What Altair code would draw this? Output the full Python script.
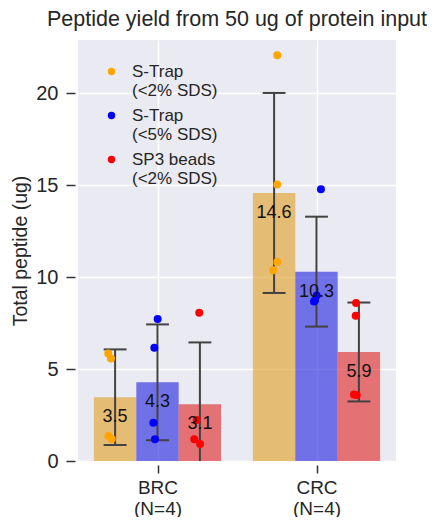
import altair as alt
import pandas as pd

# ---- data ----
categories = ["BRC", "CRC"]
category_notes = ["(N=4)", "(N=4)"]
series = ["S-Trap|(<2% SDS)", "S-Trap|(<5% SDS)", "SP3 beads|\u2002(<2% SDS)"]

brc_means = [3.47, 4.28, 3.09]
crc_means = [14.58, 10.30, 5.93]
brc_sd = [2.60, 3.15, 3.36]
crc_sd = [5.44, 2.99, 2.69]

# individual replicates (values) and their horizontal jitter (category units)
brc_orange = [5.85, 5.58, 1.36, 1.20]
brc_orange_jit = [-0.043, -0.026, -0.042, -0.021]
brc_blue = [7.72, 6.16, 2.08, 1.18]
brc_blue_jit = [0.001, -0.020, -0.026, -0.016]
brc_red = [8.06, 2.23, 1.18, 0.92]
brc_red_jit = [-0.004, -0.020, -0.035, 0.001]
crc_orange = [22.07, 15.04, 10.83, 10.38]
crc_orange_jit = [0.020, 0.020, 0.020, -0.005]
crc_blue = [14.78, 9.00, 8.75, 8.68]
crc_blue_jit = [0.028, 0.001, -0.009, -0.016]
crc_red = [8.60, 7.90, 3.62, 3.59]
crc_red_jit = [-0.018, -0.020, -0.031, -0.014]

point_colors = ["#FFA500", "#0000FF", "#FF0000"]
bar_colors = ["#DF9C20", "#2020DF", "#DF2020"]

BAR_W = 0.8 / 3
CAP = 0.072

# ---- tables ----
bar_rows = []
for ci, (means, sds) in enumerate([(brc_means, brc_sd), (crc_means, crc_sd)]):
    for si, s in enumerate(series):
        xc = ci + (si - 1) * BAR_W
        bar_rows.append(dict(cat=categories[ci], series=s, xc=xc,
                             x0=xc - BAR_W / 2, x1=xc + BAR_W / 2,
                             c0=xc - CAP, c1=xc + CAP,
                             mean=means[si], lo=means[si] - sds[si],
                             hi=means[si] + sds[si]))
bars = pd.DataFrame(bar_rows)

pt_rows = []
groups = [
    (0, 0, brc_orange, brc_orange_jit), (0, 1, brc_blue, brc_blue_jit),
    (0, 2, brc_red, brc_red_jit), (1, 0, crc_orange, crc_orange_jit),
    (1, 1, crc_blue, crc_blue_jit), (1, 2, crc_red, crc_red_jit),
]
for ci, si, vals, jits in groups:
    for v, j in zip(vals, jits):
        pt_rows.append(dict(series=series[si], x=ci + (si - 1) * BAR_W + j, v=v))
pts = pd.DataFrame(pt_rows)

FONT = "Liberation Sans"
TXT = "#262626"

label_expr = "[" + ",".join(f"['{c}','{n}']" for c, n in zip(categories, category_notes)) + "][datum.value]"

xscale = alt.Scale(domain=[-0.5, 1.5], nice=False, zero=False)
yscale = alt.Scale(domain=[0, 22.9], nice=False)

xaxis = alt.Axis(values=[0, 1], labelExpr=label_expr, title=None, grid=True,
                 gridColor="white", gridWidth=1.5, domain=False, tickSize=8,
                 tickColor="#333333", tickWidth=1.5, offset=4, labelPadding=5,
                 labelFontSize=19, labelLineHeight=21, labelColor=TXT, labelFont=FONT)
yaxis = alt.Axis(values=[0, 5, 10, 15, 20], title="Total peptide (ug)", grid=True,
                 gridColor="white", gridWidth=1.5, domain=False, tickSize=9,
                 tickColor="#333333", tickWidth=1.5, offset=3, labelPadding=8,
                 labelFontSize=20, labelColor=TXT, labelFont=FONT,
                 titleFontSize=19.5, titleFontWeight="normal", titleColor=TXT,
                 titleFont=FONT, titlePadding=5)

base_b = alt.Chart(bars)

bar_layer = base_b.mark_bar(opacity=0.6).encode(
    x=alt.X("x0:Q", scale=xscale, axis=xaxis),
    x2="x1:Q",
    y=alt.Y("mean:Q", scale=yscale, axis=yaxis),
    y2=alt.datum(0),
    color=alt.Color("series:N", scale=alt.Scale(domain=series, range=bar_colors), legend=None),
)

err_color = "#424242"
err_v = base_b.mark_rule(color=err_color, strokeWidth=2, clip=True).encode(
    x="xc:Q", y="lo:Q", y2="hi:Q")
cap_hi = base_b.mark_rule(color=err_color, strokeWidth=2, clip=True).encode(
    x="c0:Q", x2="c1:Q", y="hi:Q")
cap_lo = base_b.mark_rule(color=err_color, strokeWidth=2, clip=True).encode(
    x="c0:Q", x2="c1:Q", y="lo:Q")

point_layer = alt.Chart(pts).mark_circle(size=64, opacity=1).encode(
    x="x:Q",
    y="v:Q",
    color=alt.Color("series:N",
                    scale=alt.Scale(domain=series, range=point_colors),
                    legend=alt.Legend(orient="none", legendX=25, legendY=23,
                                      title=None, symbolType="circle",
                                      symbolSize=55, symbolStrokeWidth=0,
                                      symbolOpacity=1,
                                      labelFontSize=17,
                                      labelOffset=12, rowPadding=7, padding=0,
                                      labelLimit=0, labelColor=TXT, labelFont=FONT,
                                      labelExpr="split(datum.label, '|')")),
)

text_layer = base_b.mark_text(dy=20, baseline="middle", align="center",
                              fontSize=18, color="#111111", font=FONT).encode(
    x="xc:Q", y="mean:Q", text=alt.Text("mean:Q", format=".1f"))

chart = alt.layer(bar_layer, err_v, cap_hi, cap_lo, point_layer, text_layer).resolve_scale(
    color="independent"
).properties(
    width=318, height=421,
    title=alt.TitleParams("Peptide yield from 50 ug of protein input", fontSize=21.5,
                          fontWeight="normal", color=TXT, font=FONT, anchor="middle",
                          offset=10),
    autosize=alt.AutoSizeParams(type="none"),
    padding={"left": 70, "top": 32, "right": 38, "bottom": 56},
).configure(background="white").configure_view(fill="#EAEAF2", stroke=None)

chart.save("out.html", embed_options={"renderer": "svg", "actions": False})
